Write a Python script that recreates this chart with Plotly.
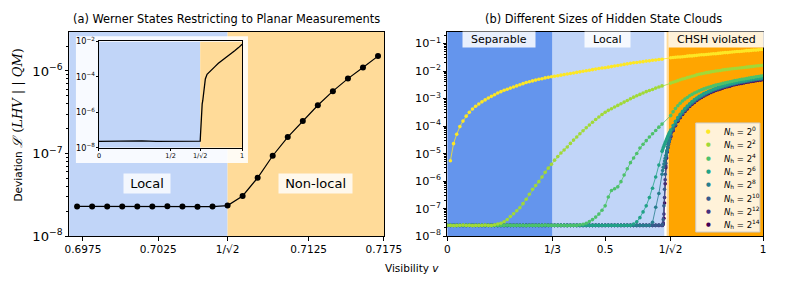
import plotly.graph_objects as go
import plotly.colors as pc

# ---------------- panel (a) data ----------------
a_vis = [0.69711, 0.69811, 0.69911, 0.70011, 0.70111, 0.70211, 0.70311, 0.70411, 0.70511, 0.70611,
         0.70711, 0.70811, 0.70911, 0.71011, 0.71111, 0.71211, 0.71311, 0.71411, 0.71511, 0.71611, 0.71711]
a_dev = [2.29e-8, 2.29e-8, 2.28e-8, 2.29e-8, 2.29e-8, 2.28e-8, 2.30e-8, 2.29e-8, 2.27e-8, 2.28e-8,
         2.34e-8, 3.06e-8, 5.08e-8, 9.4e-8, 1.58e-7, 2.47e-7, 3.84e-7, 5.69e-7, 8.07e-7, 1.10e-6, 1.51e-6]
a_ticks = [0.6975, 0.7025, 0.70711, 0.7125, 0.7175]
a_ticktext = ["0.6975", "0.7025", "1/√2", "0.7125", "0.7175"]

inset_vis = [0.0, 0.1, 0.2, 0.3, 0.4, 0.5, 0.6, 0.7, 0.7071, 0.7091, 0.7111, 0.7131, 0.7151, 0.7171,
             0.721, 0.725, 0.73, 0.736, 0.743, 0.755, 0.77, 0.789, 0.81, 0.834, 0.857, 0.88, 0.91,
             0.948, 0.975, 1.0]
inset_dev = [2.3e-8, 2.4e-8, 2.3e-8, 2.4e-8, 2.3e-8, 2.3e-8, 2.3e-8, 2.3e-8, 2.34e-8, 5.1e-8, 1.58e-7,
             3.84e-7, 8.07e-7, 1.51e-6, 3.0e-6, 4.5e-6, 1.1e-5, 2.2e-5, 7.6e-5, 1.4e-4, 1.9e-4, 2.6e-4,
             3.8e-4, 5.9e-4, 8.0e-4, 1.1e-3, 1.7e-3, 3.0e-3, 4.5e-3, 6.9e-3]
inset_ticks = [0, 0.5, 0.70711, 1]
inset_ticktext = ["0", "1/2", "1/√2", "1"]

# ---------------- panel (b) data ----------------
b_ticks = [0, 1/3, 0.5, 0.70711, 1]
b_ticktext = ["0", "1/3", "0.5", "1/√2", "1"]
b_exponents = ["0", "2", "4", "6", "8", "10", "12", "14"]

b_vis_low = [0.00, 0.01, 0.02, 0.03, 0.04, 0.05, 0.06, 0.07, 0.08, 0.09,
             0.10, 0.11, 0.12, 0.13, 0.14, 0.15, 0.16, 0.17, 0.18, 0.19,
             0.20, 0.21, 0.22, 0.23, 0.24, 0.25, 0.26, 0.27, 0.28, 0.29,
             0.30, 0.31, 0.32, 0.33, 0.34, 0.35, 0.36, 0.37, 0.38, 0.39,
             0.40, 0.41, 0.42, 0.43, 0.44, 0.45, 0.46, 0.47, 0.48, 0.49,
             0.50, 0.51, 0.52, 0.53, 0.54, 0.55, 0.56, 0.57, 0.58, 0.59,
             0.60, 0.61, 0.62, 0.63, 0.64, 0.65, 0.66, 0.67, 0.68]
b_vis_mid = [0.682, 0.684, 0.686, 0.688, 0.690, 0.692, 0.694, 0.696, 0.698, 0.700, 0.702, 0.704]
b_vis_high = [0.7075, 0.715, 0.7225, 0.73, 0.7375, 0.745, 0.7525, 0.76, 0.7675, 0.775,
              0.7825, 0.79, 0.7975, 0.805, 0.8125, 0.82, 0.8275, 0.835, 0.8425, 0.85,
              0.8575, 0.865, 0.8725, 0.88, 0.8875, 0.895, 0.9025, 0.91, 0.9175, 0.925,
              0.9325, 0.94, 0.9475, 0.955, 0.9625, 0.97, 0.9775, 0.985, 0.9925, 1.0]

# log10 of the deviation for each hidden-state-cloud size
n0_low = [None, -5.26, -4.64, -4.30, -4.02, -3.82, -3.64, -3.50, -3.38, -3.28,
          -3.20, -3.12, -3.05, -2.98, -2.92, -2.86, -2.80, -2.75, -2.70, -2.66,
          -2.62, -2.58, -2.54, -2.50, -2.46, -2.42, -2.39, -2.36, -2.33, -2.30,
          -2.28, -2.25, -2.23, -2.21, -2.19, -2.17, -2.15, -2.13, -2.11, -2.09,
          -2.07, -2.05, -2.03, -2.01, -1.99, -1.97, -1.95, -1.93, -1.91, -1.89,
          -1.88, -1.86, -1.84, -1.82, -1.80, -1.78, -1.76, -1.74, -1.72, -1.70,
          -1.69, -1.67, -1.66, -1.64, -1.63, -1.61, -1.60, -1.58, -1.57]
n0_high = [-1.52, -1.51, -1.50, -1.49, -1.49, -1.48, -1.47, -1.46, -1.45, -1.45,
           -1.44, -1.43, -1.42, -1.41, -1.41, -1.40, -1.39, -1.38, -1.37, -1.37,
           -1.36, -1.35, -1.34, -1.33, -1.33, -1.32, -1.31, -1.30, -1.29, -1.29,
           -1.28, -1.27, -1.26, -1.26, -1.25, -1.24, -1.24, -1.23, -1.22, -1.22]

n2_low = [-7.61, -7.61, -7.62, -7.61, -7.61, -7.60, -7.61, -7.61, -7.62, -7.61,
          -7.61, -7.61, -7.60, -7.61, -7.61, -7.59, -7.56, -7.53, -7.48, -7.40,
          -7.29, -7.19, -7.08, -6.97, -6.82, -6.66, -6.48, -6.30, -6.16, -6.02,
          -5.85, -5.68, -5.53, -5.39, -5.24, -5.11, -4.98, -4.87, -4.76, -4.63,
          -4.51, -4.40, -4.28, -4.17, -4.06, -3.96, -3.86, -3.76, -3.67, -3.58,
          -3.50, -3.43, -3.37, -3.31, -3.25, -3.19, -3.13, -3.07, -3.01, -2.95,
          -2.90, -2.85, -2.80, -2.75, -2.71, -2.67, -2.62, -2.58, -2.54]
n2_high = [-2.44, -2.41, -2.38, -2.35, -2.32, -2.29, -2.27, -2.24, -2.22, -2.19,
           -2.17, -2.14, -2.12, -2.10, -2.08, -2.06, -2.05, -2.03, -2.02, -2.00,
           -1.99, -1.98, -1.96, -1.95, -1.94, -1.93, -1.92, -1.91, -1.90, -1.89,
           -1.88, -1.87, -1.86, -1.85, -1.84, -1.83, -1.82, -1.81, -1.80, -1.79]

n4_low = [-7.61, -7.61, -7.61, -7.62, -7.61, -7.61, -7.61, -7.60, -7.61, -7.61,
          -7.61, -7.61, -7.61, -7.61, -7.62, -7.61, -7.61, -7.61, -7.61, -7.60,
          -7.61, -7.61, -7.61, -7.61, -7.61, -7.62, -7.61, -7.61, -7.61, -7.61,
          -7.61, -7.60, -7.61, -7.61, -7.61, -7.61, -7.61, -7.61, -7.62, -7.61,
          -7.61, -7.61, -7.59, -7.57, -7.53, -7.47, -7.40, -7.31, -7.20, -7.06,
          -6.90, -6.58, -6.34, -6.28, -6.21, -6.02, -5.78, -5.55, -5.33, -5.16,
          -5.00, -4.80, -4.66, -4.53, -4.40, -4.28, -4.16, -4.04, -3.93]
n4_high = [-3.62, -3.48, -3.36, -3.26, -3.17, -3.09, -3.02, -2.96, -2.90, -2.85,
           -2.80, -2.76, -2.72, -2.68, -2.65, -2.62, -2.59, -2.56, -2.54, -2.51,
           -2.49, -2.47, -2.45, -2.43, -2.41, -2.39, -2.37, -2.35, -2.34, -2.32,
           -2.30, -2.29, -2.27, -2.26, -2.24, -2.23, -2.21, -2.20, -2.18, -2.17]

n6_low = [-7.61, -7.61, -7.61, -7.61, -7.61, -7.61, -7.61, -7.61, -7.61, -7.61,
          -7.61, -7.61, -7.61, -7.61, -7.61, -7.61, -7.61, -7.61, -7.61, -7.61,
          -7.61, -7.61, -7.61, -7.61, -7.61, -7.61, -7.61, -7.61, -7.61, -7.61,
          -7.61, -7.61, -7.61, -7.61, -7.61, -7.61, -7.61, -7.61, -7.61, -7.61,
          -7.61, -7.61, -7.61, -7.61, -7.61, -7.61, -7.61, -7.61, -7.61, -7.61,
          -7.61, -7.61, -7.61, -7.61, -7.61, -7.61, -7.61, -7.61, -7.61, -7.56,
          -7.48, -7.33, -7.12, -6.90, -6.60, -6.26, -5.85, -5.42, -4.92]
n6_mid = [-4.86, -4.79, -4.73, -4.67, -4.61, -4.55, -4.50, -4.44, -4.39, -4.33, -4.28, -4.23]
n6_high = [-4.15, -3.98, -3.83, -3.69, -3.57, -3.46, -3.36, -3.27, -3.19, -3.11,
           -3.04, -2.98, -2.92, -2.87, -2.82, -2.78, -2.74, -2.70, -2.66, -2.63,
           -2.60, -2.57, -2.54, -2.52, -2.49, -2.47, -2.45, -2.43, -2.41, -2.39,
           -2.37, -2.36, -2.34, -2.32, -2.31, -2.29, -2.28, -2.27, -2.25, -2.24]

n8_low = [-7.61, -7.61, -7.61, -7.61, -7.61, -7.61, -7.61, -7.61, -7.61, -7.61,
          -7.61, -7.61, -7.61, -7.61, -7.61, -7.61, -7.61, -7.61, -7.61, -7.61,
          -7.61, -7.61, -7.61, -7.61, -7.61, -7.61, -7.61, -7.61, -7.61, -7.61,
          -7.61, -7.61, -7.61, -7.61, -7.61, -7.61, -7.61, -7.61, -7.61, -7.61,
          -7.61, -7.61, -7.61, -7.61, -7.61, -7.61, -7.61, -7.61, -7.61, -7.61,
          -7.61, -7.61, -7.61, -7.61, -7.61, -7.61, -7.61, -7.61, -7.61, -7.61,
          -7.61, -7.61, -7.61, -7.61, -7.61, -7.50, -6.95, -6.45, -5.75]
n8_mid = [-5.62, -5.50, -5.38, -5.27, -5.17, -5.07, -4.98, -4.88, -4.78, -4.68, -4.58, -4.48]
n8_high = [-4.28, -4.08, -3.91, -3.76, -3.63, -3.51, -3.41, -3.31, -3.23, -3.15,
           -3.08, -3.01, -2.95, -2.90, -2.85, -2.80, -2.76, -2.72, -2.68, -2.65,
           -2.62, -2.59, -2.56, -2.54, -2.51, -2.49, -2.47, -2.45, -2.43, -2.41,
           -2.39, -2.38, -2.36, -2.34, -2.33, -2.31, -2.30, -2.29, -2.27, -2.26]

n10_low = [-7.61, -7.61, -7.61, -7.61, -7.61, -7.61, -7.61, -7.61, -7.61, -7.61,
           -7.61, -7.61, -7.61, -7.61, -7.61, -7.61, -7.61, -7.61, -7.61, -7.61,
           -7.61, -7.61, -7.61, -7.61, -7.61, -7.61, -7.61, -7.61, -7.61, -7.61,
           -7.61, -7.61, -7.61, -7.61, -7.61, -7.61, -7.61, -7.61, -7.61, -7.61,
           -7.61, -7.61, -7.61, -7.61, -7.61, -7.61, -7.61, -7.61, -7.61, -7.61,
           -7.61, -7.61, -7.61, -7.61, -7.61, -7.61, -7.61, -7.61, -7.61, -7.61,
           -7.61, -7.61, -7.61, -7.61, -7.61, -7.61, -7.61, -7.60, -7.60]
n10_mid = [-7.58, -7.40, -6.90, -6.30, -5.75, -5.35, -5.08, -4.90, -4.76, -4.64, -4.54, -4.45]
n10_high = [-4.35, -4.13, -3.95, -3.79, -3.66, -3.54, -3.43, -3.34, -3.25, -3.17,
            -3.10, -3.03, -2.97, -2.92, -2.87, -2.82, -2.78, -2.74, -2.70, -2.67,
            -2.64, -2.61, -2.58, -2.55, -2.53, -2.51, -2.48, -2.46, -2.44, -2.42,
            -2.41, -2.39, -2.37, -2.36, -2.34, -2.33, -2.31, -2.30, -2.29, -2.28]

n12_low = [-7.61, -7.61, -7.61, -7.61, -7.61, -7.61, -7.61, -7.61, -7.61, -7.61,
           -7.61, -7.61, -7.61, -7.61, -7.61, -7.61, -7.61, -7.61, -7.61, -7.61,
           -7.61, -7.61, -7.61, -7.61, -7.61, -7.61, -7.61, -7.61, -7.61, -7.61,
           -7.61, -7.61, -7.61, -7.61, -7.61, -7.61, -7.61, -7.61, -7.61, -7.61,
           -7.61, -7.61, -7.61, -7.61, -7.61, -7.61, -7.61, -7.61, -7.61, -7.61,
           -7.61, -7.61, -7.61, -7.61, -7.61, -7.61, -7.61, -7.61, -7.61, -7.61,
           -7.61, -7.61, -7.61, -7.61, -7.61, -7.61, -7.61, -7.61, -7.61]
n12_mid = [-7.60, -7.52, -7.20, -6.60, -5.95, -5.45, -5.13, -4.93, -4.78, -4.66, -4.56, -4.47]
n12_high = [-4.37, -4.15, -3.97, -3.81, -3.68, -3.56, -3.45, -3.36, -3.27, -3.19,
            -3.12, -3.05, -2.99, -2.94, -2.89, -2.84, -2.80, -2.76, -2.72, -2.69,
            -2.66, -2.63, -2.60, -2.57, -2.55, -2.53, -2.50, -2.48, -2.46, -2.44,
            -2.43, -2.41, -2.39, -2.38, -2.36, -2.35, -2.33, -2.32, -2.31, -2.30]

n14_low = [-7.61, -7.61, -7.61, -7.61, -7.61, -7.61, -7.61, -7.61, -7.61, -7.61,
           -7.61, -7.61, -7.61, -7.61, -7.61, -7.61, -7.61, -7.61, -7.61, -7.61,
           -7.61, -7.61, -7.61, -7.61, -7.61, -7.61, -7.61, -7.61, -7.61, -7.61,
           -7.61, -7.61, -7.61, -7.61, -7.61, -7.61, -7.61, -7.61, -7.61, -7.61,
           -7.61, -7.61, -7.61, -7.61, -7.61, -7.61, -7.61, -7.61, -7.61, -7.61,
           -7.61, -7.61, -7.61, -7.61, -7.61, -7.61, -7.61, -7.61, -7.61, -7.61,
           -7.61, -7.61, -7.61, -7.61, -7.61, -7.61, -7.61, -7.61, -7.61]
n14_mid = [-7.60, -7.56, -7.35, -6.80, -6.10, -5.52, -5.17, -4.95, -4.80, -4.68, -4.58, -4.49]
n14_high = [-4.39, -4.17, -3.99, -3.83, -3.70, -3.58, -3.47, -3.38, -3.29, -3.21,
            -3.14, -3.07, -3.01, -2.96, -2.91, -2.86, -2.82, -2.78, -2.74, -2.71,
            -2.68, -2.65, -2.62, -2.59, -2.57, -2.55, -2.52, -2.50, -2.48, -2.46,
            -2.45, -2.43, -2.41, -2.40, -2.38, -2.37, -2.35, -2.34, -2.33, -2.32]

series_b = [
    (n0_low, None, n0_high),
    (n2_low, None, n2_high),
    (n4_low, None, n4_high),
    (n6_low, n6_mid, n6_high),
    (n8_low, n8_mid, n8_high),
    (n10_low, n10_mid, n10_high),
    (n12_low, n12_mid, n12_high),
    (n14_low, n14_mid, n14_high),
]

# ---------------- styling ----------------
FONT = "DejaVu Sans"
W, H = 785, 285
BLUE_L = "#C1D5F8"
ORANGE_L = "#FFDB99"
BLUE_D = "#6495ED"
ORANGE_D = "#FFA500"
colors = pc.sample_colorscale("Viridis", [1 - i / 7 for i in range(8)])

def px_x(a, b):
    return [a / W, b / W]

def px_y(top, bottom):
    return [1 - bottom / H, 1 - top / H]

fig = go.Figure()

fig.add_trace(go.Scatter(x=a_vis, y=a_dev, mode="lines+markers",
                         line=dict(color="black", width=1.2),
                         marker=dict(color="black", size=6),
                         xaxis="x", yaxis="y", showlegend=False, hoverinfo="skip"))
fig.add_trace(go.Scatter(x=inset_vis, y=inset_dev, mode="lines",
                         line=dict(color="black", width=1.3),
                         xaxis="x3", yaxis="y3", showlegend=False, hoverinfo="skip"))

for i in reversed(range(len(series_b))):
    low, mid, high = series_b[i]
    xs = list(b_vis_low)
    ys = list(low)
    if mid is not None:
        xs += b_vis_mid
        ys += mid
    xs += b_vis_high
    ys += high
    yv = [None if v is None else 10 ** v for v in ys]
    fig.add_trace(go.Scatter(x=xs, y=yv, mode="lines+markers",
                             line=dict(color=colors[i], width=0.8),
                             marker=dict(color=colors[i], size=3.6),
                             connectgaps=True, name=f"N_h = 2^{b_exponents[i]}",
                             xaxis="x2", yaxis="y2", showlegend=False, hoverinfo="skip"))

A_L, A_R, TOP, BOT = 67, 391, 27, 242
B_L, B_R = 456, 781
a_range = [0.69658, 0.71751]
a_yrange = [-8, -5.525]
b_yrange = [-8, -0.57]
scale_a = (A_R - A_L) / (a_range[1] - a_range[0])

def a_x(px):
    return a_range[0] + (px - A_L) / scale_a

def a_y(px):
    return 10 ** (a_yrange[0] + (BOT - px) / (BOT - TOP) * (a_yrange[1] - a_yrange[0]))

axis_common = dict(showline=True, linecolor="black", linewidth=1, mirror=True,
                   ticks="outside", ticklen=3.5, tickcolor="black", showgrid=False,
                   zeroline=False, tickfont=dict(family=FONT, size=10.5, color="black"))

fig.update_layout(
    width=W, height=H, autosize=False, showlegend=False,
    margin=dict(l=0, r=0, t=0, b=0),
    paper_bgcolor="white", plot_bgcolor="white",
    font=dict(family=FONT, color="black"),
    xaxis=dict(domain=px_x(A_L, A_R), range=a_range, tickmode="array",
               tickvals=a_ticks, ticktext=a_ticktext, anchor="y", **axis_common),
    yaxis=dict(domain=px_y(TOP, BOT), type="log", range=a_yrange, dtick=1,
               exponentformat="power", showexponent="all", anchor="x",
               minor=dict(ticks="outside", ticklen=2, tickcolor="black"),
               **axis_common),
    xaxis2=dict(domain=px_x(B_L, B_R), range=[0, 1], tickmode="array",
                tickvals=b_ticks, ticktext=b_ticktext, anchor="y2", **axis_common),
    yaxis2=dict(domain=px_y(TOP, BOT), type="log", range=b_yrange, dtick=1,
                exponentformat="power", showexponent="all", anchor="x2",
                minor=dict(ticks="outside", ticklen=2, tickcolor="black"),
                **{**axis_common, "tickfont": dict(family=FONT, size=9, color="black")}),
    xaxis3=dict(domain=px_x(97.7, 245), range=[0, 1], tickmode="array",
                tickvals=inset_ticks, ticktext=inset_ticktext, anchor="y3",
                **{**axis_common, "ticklen": 2, "linewidth": 0.8,
                   "tickfont": dict(family=FONT, size=6.5, color="black")}),
    yaxis3=dict(domain=px_y(37.3, 149), type="log", range=[-8, -2], dtick=2,
                exponentformat="power", showexponent="all", anchor="x3",
                **{**axis_common, "ticklen": 2, "linewidth": 0.8,
                   "tickfont": dict(family=FONT, size=6.5, color="black")}),
)

shapes = []
ya0, ya1 = 10 ** a_yrange[0], 10 ** a_yrange[1]
shapes.append(dict(type="rect", xref="x", yref="y", x0=a_range[0], x1=0.70711, y0=ya0, y1=ya1,
                   fillcolor=BLUE_L, line=dict(width=0), layer="below"))
shapes.append(dict(type="rect", xref="x", yref="y", x0=0.70711, x1=a_range[1], y0=ya0, y1=ya1,
                   fillcolor=ORANGE_L, line=dict(width=0), layer="below"))
shapes.append(dict(type="rect", xref="x", yref="y", x0=a_x(74), x1=a_x(251),
                   y0=a_y(165), y1=a_y(31.7), fillcolor="rgba(255,255,255,0.88)",
                   line=dict(width=0), layer="below"))
shapes.append(dict(type="rect", xref="x3", yref="y3", x0=0, x1=0.70711, y0=1e-8, y1=1e-2,
                   fillcolor=BLUE_L, line=dict(width=0), layer="below"))
shapes.append(dict(type="rect", xref="x3", yref="y3", x0=0.70711, x1=1, y0=1e-8, y1=1e-2,
                   fillcolor=ORANGE_L, line=dict(width=0), layer="below"))
yb0, yb1 = 10 ** b_yrange[0], 10 ** b_yrange[1]
for x0, x1, c in [(0, 1/3, BLUE_D), (1/3, 0.6872, BLUE_L), (0.6945, 0.7015, ORANGE_L), (0.7015, 1, ORANGE_D)]:
    shapes.append(dict(type="rect", xref="x2", yref="y2", x0=x0, x1=x1, y0=yb0, y1=yb1,
                       fillcolor=c, line=dict(width=0), layer="below"))
LEG_L, LEG_R, LEG_T, LEG_B = 711.7, 777.7, 123, 237.7
shapes.append(dict(type="rect", xref="paper", yref="paper", x0=LEG_L / W, x1=LEG_R / W,
                   y0=1 - LEG_B / H, y1=1 - LEG_T / H, fillcolor="rgba(255,255,255,0.85)",
                   line=dict(color="#cccccc", width=1), layer="above"))
fig.update_layout(shapes=shapes)

def txt(text, x, y, xref="paper", size=10.5, **kw):
    d = dict(text=text, x=x, y=y, xref=xref, yref="paper", showarrow=False,
             xanchor="center", yanchor="middle", font=dict(family=FONT, size=size, color="black"))
    d.update(kw)
    return d

ann = [
    txt("(a) Werner States Restricting to Planar Measurements", 229 / W, 1 - 14 / H, size=11.4),
    txt("(b) Different Sizes of Hidden State Clouds", 617 / W, 1 - 14 / H, size=11.4),
    txt("Visibility <i>v</i>", 420 / W, 1 - 276 / H),
    txt("Deviation <span style='font-family:DejaVu Serif;font-size:13px'><i>ℒ</i> (<i>LHV</i> | | <i>QM</i>)</span>",
        14 / W, 1 - 125 / H, textangle=-90),
    txt("\u00a0Local\u00a0", a_x(147), 1 - 187 / H, xref="x", size=13,
        bgcolor="rgba(255,255,255,0.8)", borderpad=2),
    txt("\u00a0Non-local\u00a0", a_x(320.7), 1 - 187 / H, xref="x", size=13,
        bgcolor="rgba(255,255,255,0.8)", borderpad=2),
]
for t, xv in [("Separable", 0.163), ("Local", 0.507), ("CHSH violated", 0.852)]:
    ann.append(txt("\u00a0\u00a0" + t + "\u00a0\u00a0", xv, 1 - 35 / H, xref="x2", size=11,
                   bgcolor="rgba(255,255,255,0.85)", borderpad=1))
row0, row_step = 131.5, 14.0
for i, e in enumerate(b_exponents):
    yrow = 1 - (row0 + i * row_step) / H
    ann.append(dict(text="●", x=724.3 / W, y=yrow, xref="paper", yref="paper", showarrow=False,
                    xanchor="center", yanchor="middle",
                    font=dict(family=FONT, size=5.5, color=colors[i])))
    ann.append(dict(text=f"<i>N</i><sub>h</sub> = 2<sup>{e}</sup>", x=738.5 / W, y=yrow,
                    xref="paper", yref="paper", showarrow=False, xanchor="left", yanchor="middle",
                    font=dict(family=FONT, size=8.5, color="black")))
fig.update_layout(annotations=ann)

fig.write_html("out.html", config={"displayModeBar": False},
               post_script="document.body.style.margin='0';document.body.style.overflow='hidden';")
